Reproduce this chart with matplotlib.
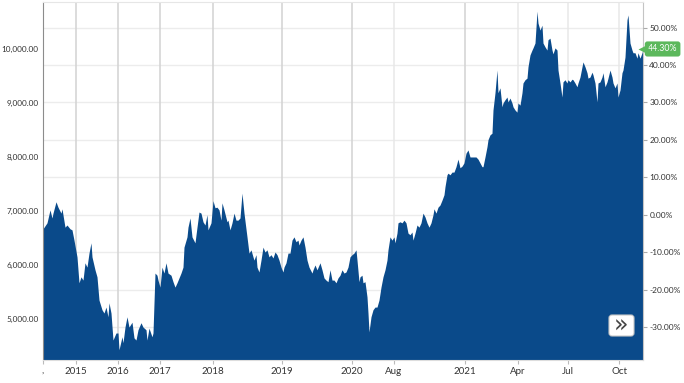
import matplotlib
matplotlib.use("Agg")
import matplotlib.pyplot as plt
from matplotlib.patches import FancyBboxPatch
from matplotlib.transforms import IdentityTransform

plt.rcParams['font.family'] = ['Lato', 'DejaVu Sans']

# trading-session index (ordinal x axis) and index level
session = [0, 4, 7, 9, 10, 13, 15, 18, 19, 22, 24, 27, 29, 31, 34, 36, 38, 40, 42, 44,
           46, 48, 49, 52, 54, 56, 59, 61, 63, 65, 66, 68, 70, 73, 75, 76, 79, 80, 82, 84,
           86, 89, 91, 93, 95, 98, 100, 103, 104, 106, 109, 110, 112, 114, 115, 117, 119, 121, 123, 125,
           128, 130, 132, 134, 136, 138, 140, 141, 144, 145, 147, 149, 152, 154, 156, 158, 160, 162, 164, 165,
           168, 170, 172, 174, 176, 178, 179, 181, 184, 185, 187, 189, 191, 193, 195, 197, 199, 201, 204, 206,
           208, 210, 211, 213, 214, 216, 218, 220, 222, 224, 226, 228, 230, 232, 234, 236, 238, 240, 241, 243,
           245, 247, 249, 251, 253, 255, 256, 258, 260, 262, 264, 266, 269, 270, 272, 274, 277, 279, 281, 283,
           285, 287, 289, 291, 293, 295, 297, 299, 301, 303, 305, 307, 309, 311, 313, 314, 316, 317, 319, 320,
           322, 324, 325, 326, 328, 330, 332, 334, 336, 338, 340, 342, 344, 345, 347, 349, 351, 352, 354, 355,
           357, 359, 361, 363, 365, 367, 369, 370, 372, 374, 376, 378, 380, 382, 384, 386, 388, 390, 391, 393,
           395, 397, 399, 401, 402, 404, 405, 407, 409, 411, 413, 415, 417, 419, 421, 423, 425, 427, 429, 431,
           433, 435, 437, 439, 440, 442, 444, 445, 447, 449, 450, 452, 454, 455, 457, 459, 460, 462, 464, 465,
           467, 469, 470, 472, 474, 475, 477, 479, 480, 482, 484, 485, 487, 489, 490, 492, 494, 495, 497, 499,
           500, 502, 504, 505, 507, 509, 510, 512, 514, 515, 517, 519, 520, 522, 524, 525, 527, 529, 530, 532,
           534, 535, 537, 539, 540, 542, 544, 545, 547, 549, 550, 552, 554, 555, 557, 559, 560, 562, 564, 565,
           567, 569, 570, 572, 574, 575, 577, 579, 580, 582, 584, 585, 587, 589, 590, 592, 594, 595, 597, 599,
           600]
close = [6670, 6780, 7020, 6870, 6960, 7170, 7070, 6960, 7040, 6700, 6740, 6670, 6650, 6460, 6150, 5670, 5780, 5720, 6040, 5960,
         6220, 6410, 6150, 5910, 5780, 5350, 5170, 5110, 5220, 5040, 5300, 5110, 4610, 4740, 4740, 4430, 4670, 4560, 4850, 5040,
         4850, 4940, 4650, 4610, 4800, 4930, 4850, 4800, 4610, 4830, 4670, 4740, 5850, 5810, 5720, 5590, 5960, 5850, 6040, 5850,
         5810, 5690, 5590, 5670, 5760, 5850, 5960, 6330, 6520, 6700, 6870, 6520, 6410, 6700, 6980, 6960, 6800, 6740, 6930, 6650,
         6780, 7190, 7060, 7070, 7020, 6830, 7150, 7020, 6800, 6830, 6650, 6780, 6960, 6830, 6830, 6870, 7330, 6960, 6520, 6220,
         6280, 6150, 6090, 6190, 5960, 5870, 6090, 6330, 6240, 6280, 6150, 6190, 6130, 6240, 6190, 6090, 5960, 5870, 5960, 6040,
         6220, 6220, 6460, 6520, 6430, 6460, 6370, 6460, 6520, 6330, 6090, 5960, 5850, 5910, 6000, 5910, 6040, 5910, 5760, 5720,
         5690, 5910, 5720, 5720, 5670, 5760, 5810, 5910, 5850, 5870, 5960, 6150, 6190, 6220, 6280, 6090, 5690, 5780, 5810, 5670,
         5690, 5410, 5110, 4760, 5040, 5170, 5220, 5220, 5350, 5590, 5780, 5910, 6090, 6280, 6520, 6460, 6520, 6410, 6590, 6780,
         6800, 6780, 6830, 6780, 6590, 6560, 6610, 6460, 6590, 6740, 6700, 6780, 6960, 6890, 6780, 6700, 6780, 6930, 7040, 6960,
         7070, 7110, 7200, 7300, 7450, 7670, 7700, 7670, 7720, 7720, 7820, 7960, 7800, 7830, 7890, 8070, 8130, 8000, 8000, 8000,
         8000, 7960, 7890, 7820, 7820, 8000, 8190, 8320, 8410, 8440, 8870, 9190, 9610, 9190, 9280, 8930, 9000, 9060, 9110, 9020,
         9090, 9000, 8930, 8870, 8830, 9000, 8960, 9190, 9370, 9430, 9460, 9670, 9890, 9980, 10020, 10110, 10700, 10480, 10350, 10440,
         10110, 10040, 9980, 10170, 10200, 9980, 9910, 10020, 9980, 9610, 9370, 9110, 9390, 9430, 9370, 9430, 9390, 9440, 9430, 9370,
         9300, 9370, 9480, 9670, 9760, 9670, 9560, 9460, 9480, 9570, 9520, 9370, 9020, 9370, 9390, 9480, 9560, 9300, 9390, 9460,
         9610, 9480, 9370, 9280, 9370, 9110, 9240, 9560, 9610, 9850, 10540, 10630, 10110, 9980, 9930, 9930, 9830, 9930, 9830, 9930,
         10000]

base = 6930  # reference level for the % scale

tick_pos = [0, 33, 75, 117, 170, 239, 309, 351, 422, 475, 525, 576]
tick_labels = [',', '2015', '2016', '2017', '2018', '2019', '2020', 'Aug', '2021', 'Apr', 'Jul', 'Oct']
year_ticks = [33, 75, 117, 170, 239, 309, 422]
month_ticks = [351, 475, 525, 576]

price_ticks = [5000, 6000, 7000, 8000, 9000, 10000]
pct_ticks = [-30, -20, -10, 0, 10, 20, 30, 40, 50]

ylo, yhi = 4240, 10870
blue = '#0a4a8a'
green = '#5cb85c'

fig = plt.figure(figsize=(6.84, 3.83), dpi=100)
ax = fig.add_axes([43 / 684, 23 / 383, 600 / 684, 358 / 383])

# grid: horizontal at the % levels, vertical at the date ticks
for p in pct_ticks:
    ax.axhline(base * (1 + p / 100), color='#ececec', lw=1, zorder=0)
for t in year_ticks:
    ax.axvline(t, color='#d2d2d2', lw=1.1, zorder=0)
for t in month_ticks:
    ax.axvline(t, color='#e8e8e8', lw=1.1, zorder=0)

ax.fill_between(session, close, ylo - 500, color=blue, lw=0, zorder=2)

ax.set_xlim(0, 600)
ax.set_ylim(ylo, yhi)
ax.set_xticks(tick_pos, tick_labels)
ax.set_yticks(price_ticks, ['{:,.2f}'.format(v) for v in price_ticks])
ax.tick_params(axis='x', length=3, color='#bbbbbb', labelsize=7, labelcolor='#333333', pad=2)
ax.tick_params(axis='y', length=0, labelsize=5.9, labelcolor='#333333', pad=3)

ax.spines['left'].set_color('#8c8c8c')
ax.spines['top'].set_color('#e6e6e6')
ax.spines['right'].set_color('#c4c4c4')
ax.spines['bottom'].set_color('#dddddd')

# right-hand % scale
ax2 = ax.twinx()
ax2.set_ylim((ylo / base - 1) * 100, (yhi / base - 1) * 100)
ax2.set_yticks(pct_ticks, ['{:.2f}%'.format(p) for p in pct_ticks])
ax2.tick_params(axis='y', length=3, width=0.8, color='#aaaaaa', labelsize=6, labelcolor='#333333', pad=1.5)
for s in ax2.spines.values():
    s.set_visible(False)

# last-value badge
last_pct = (close[-1] / base - 1) * 100
ax2.plot([1.0], [last_pct], marker='<', ms=7, color=green, mec='none',
         transform=ax2.get_yaxis_transform(), clip_on=False, zorder=5)
ax2.annotate('{:.2f}%'.format(last_pct), xy=(1.0, last_pct), xycoords=('axes fraction', 'data'),
             xytext=(3.5, 0), textcoords='offset points', va='center', ha='left',
             fontsize=6.3, color='white', annotation_clip=False,
             bbox=dict(boxstyle='round,pad=0.35,rounding_size=0.3', fc=green, ec='none'))

# scroll button
fig.patches.append(FancyBboxPatch((609, 383 - 336), 25, 21, boxstyle='round,pad=0,rounding_size=3',
                                  fc='white', ec='#c8c8c8', lw=0.8, transform=IdentityTransform(),
                                  figure=fig, zorder=10))
fig.text(621.5, 383 - 326, '\u00bb', transform=IdentityTransform(), ha='center', va='center',
         fontsize=17, color='#444444', family='DejaVu Sans', zorder=11)

fig.savefig('out.png', dpi=100)
